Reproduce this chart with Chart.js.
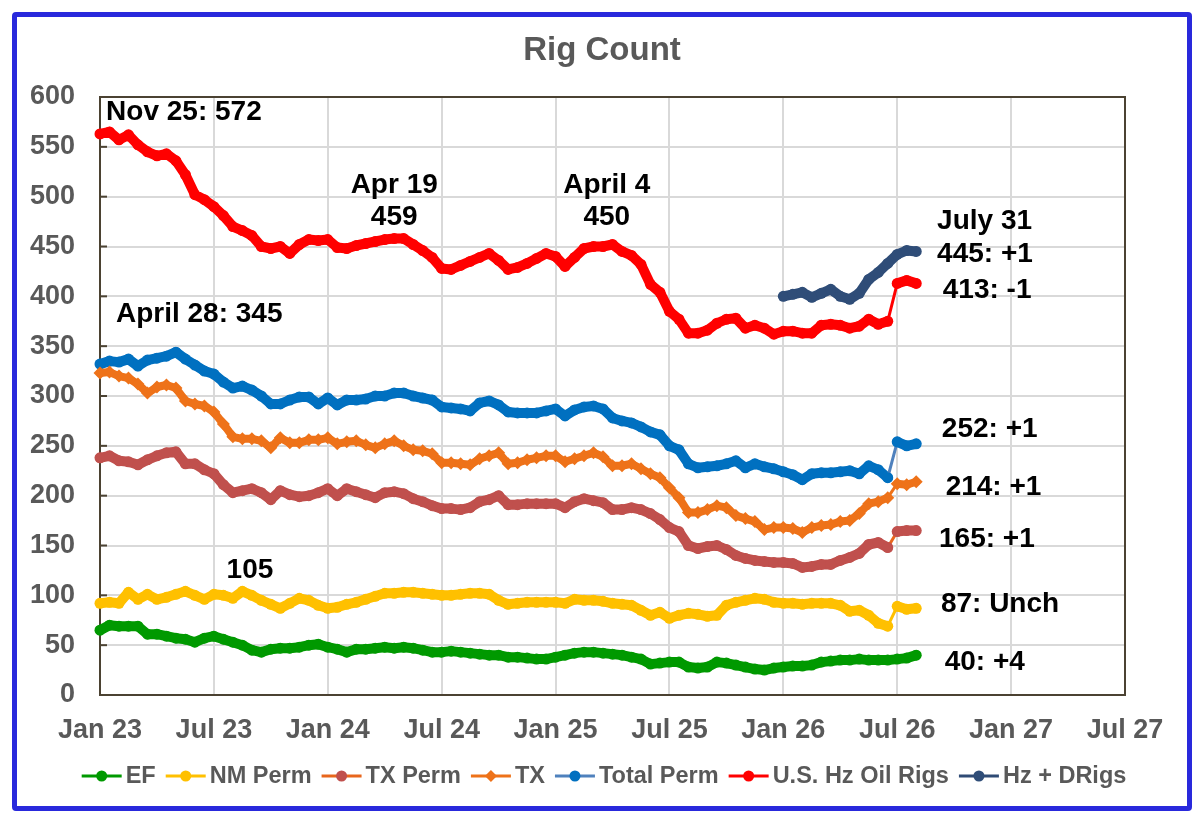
<!DOCTYPE html>
<html>
<head>
<meta charset="utf-8">
<title>Rig Count</title>
<script src="https://cdn.jsdelivr.net/npm/chart.js@4.4.1/dist/chart.umd.min.js"></script>
<style>
  html, body { margin: 0; padding: 0; background: #fff; }
  #wrap { position: relative; width: 1204px; height: 824px; }
  #frame {
    position: absolute; left: 12px; top: 12px;
    width: 1170px; height: 789px;
    border: 5px solid #2929dc; border-radius: 4px;
    pointer-events: none;
  }
  #chart { position: absolute; left: 0; top: 0; }
</style>
</head>
<body>
<div id="wrap">
  <canvas id="chart" width="1204" height="824"></canvas>
  <div id="frame"></div>
</div>
<script>
// Half-month steps, months since Jan 2023
const months = [
  0, 0.5, 1, 1.5, 2, 2.5, 3, 3.5, 4, 4.5,
  5, 5.5, 6, 6.5, 7, 7.5, 8, 8.5, 9, 9.5,
  10, 10.5, 11, 11.5, 12, 12.5, 13, 13.5, 14, 14.5,
  15, 15.5, 16, 16.5, 17, 17.5, 18, 18.5, 19, 19.5,
  20, 20.5, 21, 21.5, 22, 22.5, 23, 23.5, 24, 24.5,
  25, 25.5, 26, 26.5, 27, 27.5, 28, 28.5, 29, 29.5,
  30, 30.5, 31, 31.5, 32, 32.5, 33, 33.5, 34, 34.5,
  35, 35.5, 36, 36.5, 37, 37.5, 38, 38.5, 39, 39.5,
  40, 40.5, 41, 41.5, 42, 42.5, 43
];

const xTickLabels = ['Jan 23', 'Jul 23', 'Jan 24', 'Jul 24', 'Jan 25', 'Jul 25',
  'Jan 26', 'Jul 26', 'Jan 27', 'Jul 27'];

const efRigs = [
  65, 70, 69, 69, 69, 61, 61, 59, 57, 56,
  53, 57, 59, 56, 53, 50, 45, 43, 46, 47,
  47, 48, 50, 51, 48, 46, 43, 46, 46, 47,
  48, 47, 48, 47, 45, 43, 43, 44, 43, 42,
  41, 40, 40, 38, 38, 37, 36, 36, 38, 40,
  42, 43, 43, 42, 41, 40, 38, 36, 31, 32,
  33, 33, 28, 27, 28, 33, 32, 30, 28, 26,
  25, 27, 28, 29, 29, 30, 33, 34, 35, 35,
  36, 35, 35, 35, 36, 37, 40
];

const nmPerm = [
  92, 93, 92, 103, 96, 101, 96, 98, 101, 104,
  100, 96, 101, 100, 97, 104, 100, 95, 91, 87,
  92, 97, 95, 90, 87, 88, 91, 93, 96, 99,
  102, 102, 103, 103, 102, 101, 100, 100, 101, 102,
  102, 101, 95, 91, 92, 93, 93, 93, 93, 92,
  96, 95, 95, 94, 92, 91, 90, 85, 80, 83,
  77, 80, 82, 81, 79, 80, 90, 93, 95, 97,
  96, 93, 92, 92, 91, 92, 92, 92, 90, 84,
  85, 80, 72, 69, 89, 86, 87
];

const txPerm = [
  238, 240, 235, 234, 231, 236, 240, 243, 244, 232,
  232, 226, 222, 211, 203, 205, 207, 203, 196, 205,
  201, 199, 200, 203, 207, 200, 207, 204, 201, 198,
  203, 204, 202, 197, 194, 190, 187, 187, 186, 188,
  194, 196, 200, 191, 191, 192, 192, 192, 192, 188,
  194, 197, 195, 193, 186, 186, 188, 186, 182, 176,
  168, 164, 150, 147, 149, 150, 146, 140, 137, 135,
  134, 133, 133, 132, 128, 129, 131, 131, 135, 138,
  142, 151, 153, 148, 164, 165, 165
];

const txTotal = [
  323, 324, 320, 318, 312, 303, 309, 311, 308, 295,
  292, 290, 284, 272, 259, 257, 257, 255, 248, 258,
  253, 253, 256, 256, 258, 252, 254, 255, 251, 248,
  252, 255, 250, 246, 245, 242, 233, 233, 232, 231,
  237, 240, 243, 232, 233, 236, 238, 240, 240, 234,
  237, 240, 243, 239, 230, 230, 232, 227, 222, 218,
  208, 198, 183, 183, 186, 190, 188, 180, 177, 174,
  166, 168, 168, 167, 163, 168, 170, 171, 174, 175,
  182, 192, 194, 198, 212, 211, 214
];

const totalPerm = [
  332, 335, 334, 337, 330, 336, 338, 340, 344, 337,
  331, 325, 322, 314, 308, 310, 306, 300, 292, 292,
  296, 299, 299, 292, 298, 291, 296, 296, 297, 300,
  300, 303, 303, 300, 298, 296, 289, 288, 287, 285,
  293, 295, 291, 284, 283, 283, 283, 285, 287, 280,
  286, 289, 290, 287, 278, 275, 273, 269, 264, 261,
  250, 246, 232, 228, 229, 230, 232, 235, 228, 232,
  229, 227, 224, 221, 216, 222, 223, 223, 224, 225,
  222, 230, 226, 218, 254, 250, 252
];

const usHzOil = [
  563, 565, 557, 562, 552, 545, 541, 543, 536, 522,
  502, 497, 490, 481, 470, 466, 461, 450, 448, 450,
  443, 452, 457, 456, 457, 449, 448, 451, 453, 455,
  457, 458, 458, 452, 446, 439, 428, 427, 431, 435,
  439, 443, 436, 427, 429, 433, 438, 443, 440, 430,
  439, 448, 450, 450, 452, 445, 441, 432, 412, 404,
  385, 377, 363, 363, 366, 373, 377, 378, 368, 371,
  368, 362, 365, 365, 363, 363, 371, 372, 371, 368,
  370, 377, 372, 375, 413, 416, 413
];

const hzPlusD = [
  null, null, null, null, null, null, null, null, null, null,
  null, null, null, null, null, null, null, null, null, null,
  null, null, null, null, null, null, null, null, null, null,
  null, null, null, null, null, null, null, null, null, null,
  null, null, null, null, null, null, null, null, null, null,
  null, null, null, null, null, null, null, null, null, null,
  null, null, null, null, null, null, null, null, null, null,
  null, null, 400, 402, 404, 399, 403, 407, 400, 397,
  403, 417, 424, 433, 442, 446, 445
];

// the week the series jump (data source change): drawn as a thin link
const jumpFrom = months.indexOf(41.5);

// text notes, anchored in data units (month, rigs)
const notes = [
  { text: 'Nov 25: 572', x: 0.32, y: 577, align: 'left' },
  { text: 'April 28: 345', x: 0.84, y: 374, align: 'left' },
  { text: '105', x: 7.9, y: 117, align: 'center' },
  { text: 'Apr 19', x: 15.5, y: 504, align: 'center' },
  { text: '459', x: 15.5, y: 472, align: 'center' },
  { text: 'April 4', x: 26.7, y: 504, align: 'center' },
  { text: '450', x: 26.7, y: 472, align: 'center' },
  { text: 'July 31', x: 44.1, y: 468, align: 'left' },
  { text: '445: +1', x: 44.1, y: 434, align: 'left' },
  { text: '413: -1', x: 44.4, y: 398, align: 'left' },
  { text: '252: +1', x: 44.35, y: 259, align: 'left' },
  { text: '214: +1', x: 44.55, y: 201, align: 'left' },
  { text: '165: +1', x: 44.2, y: 148, align: 'left' },
  { text: '87: Unch', x: 44.3, y: 83, align: 'left' },
  { text: '40: +4', x: 44.5, y: 25, align: 'left' }
];

const FONT = "'Liberation Sans', Arial, Helvetica, sans-serif";
const GRAY = '#595959';
const FRAME = '#4b4232';

function series(label, values, line, point, style, hasJump) {
  const pts = [];
  values.forEach((v, i) => {
    if (v !== null) pts.push({ x: months[i], y: v });
  });
  const thin = c => hasJump && c.p0DataIndex === jumpFrom;
  return {
    label: label,
    data: pts,
    borderColor: line,
    backgroundColor: point,
    pointBackgroundColor: point,
    pointBorderColor: point,
    pointStyle: style,
    pointRadius: style === 'rectRot' ? 6.5 : 5.5,
    pointBorderWidth: 0,
    pointHoverRadius: 5.5,
    borderWidth: 10,
    borderJoinStyle: 'round',
    borderCapStyle: 'round',
    tension: 0,
    clip: false,
    segment: {
      // dense weekly markers read as a solid band; the jump is a thin link
      borderWidth: c => thin(c) ? 3 : (style === 'rectRot' ? 8 : 10),
      borderColor: c => thin(c) ? line : point
    }
  };
}

const datasets = [
  series('EF', efRigs, '#009900', '#009900', 'circle', false),
  series('NM Perm', nmPerm, '#ffc000', '#ffc000', 'circle', true),
  series('TX Perm', txPerm, '#e8661c', '#c0504d', 'circle', true),
  series('TX', txTotal, '#ee7219', '#ee7219', 'rectRot', true),
  series('Total Perm', totalPerm, '#4f81bd', '#0070c0', 'circle', true),
  series('U.S. Hz Oil Rigs', usHzOil, '#ff0000', '#ff0000', 'circle', true),
  series('Hz + DRigs', hzPlusD, '#2f4b75', '#2f4d78', 'circle', false)
];

function drawMarker(ctx, style, x, y, r, color) {
  ctx.fillStyle = color;
  ctx.beginPath();
  if (style === 'rectRot') {
    ctx.moveTo(x, y - r);
    ctx.lineTo(x + r, y);
    ctx.lineTo(x, y + r);
    ctx.lineTo(x - r, y);
    ctx.closePath();
  } else {
    ctx.arc(x, y, r, 0, Math.PI * 2);
  }
  ctx.fill();
}

const overlay = {
  id: 'overlay',
  beforeDatasetsDraw(chart) {
    const { ctx, chartArea: a, scales } = chart;
    ctx.save();
    ctx.strokeStyle = FRAME;
    ctx.lineWidth = 2;
    // short tick marks inside the left axis
    scales.y.ticks.forEach(t => {
      const py = scales.y.getPixelForValue(t.value);
      ctx.beginPath();
      ctx.moveTo(a.left, py);
      ctx.lineTo(a.left + 7, py);
      ctx.stroke();
    });
    ctx.strokeRect(a.left, a.top, a.right - a.left, a.bottom - a.top);
    ctx.restore();
  },
  afterDraw(chart) {
    const { ctx, scales } = chart;
    ctx.save();

    // title
    ctx.fillStyle = GRAY;
    ctx.font = 'bold 33px ' + FONT;
    ctx.textAlign = 'center';
    ctx.textBaseline = 'alphabetic';
    ctx.fillText('Rig Count', 602, 60);

    // notes
    ctx.fillStyle = '#000';
    ctx.font = 'bold 28px ' + FONT;
    notes.forEach(n => {
      ctx.textAlign = n.align;
      ctx.fillText(n.text, scales.x.getPixelForValue(n.x), scales.y.getPixelForValue(n.y));
    });

    // legend: line + marker, then label
    ctx.font = 'bold 23.5px ' + FONT;
    ctx.textBaseline = 'middle';
    ctx.textAlign = 'left';
    const lineLen = 40, textGap = 4, itemGap = 10, ly = 776;
    const widths = datasets.map(d => lineLen + textGap + ctx.measureText(d.label).width);
    const total = widths.reduce((s, w) => s + w, 0) + itemGap * (datasets.length - 1);
    let lx = 604 - total / 2;
    datasets.forEach((d, i) => {
      ctx.strokeStyle = d.borderColor;
      ctx.lineWidth = 3;
      ctx.beginPath();
      ctx.moveTo(lx, ly);
      ctx.lineTo(lx + lineLen, ly);
      ctx.stroke();
      drawMarker(ctx, d.pointStyle, lx + lineLen / 2, ly, d.pointStyle === 'rectRot' ? 6 : 5.5, d.pointBackgroundColor);
      ctx.fillStyle = GRAY;
      ctx.fillText(d.label, lx + lineLen + textGap, ly + 1);
      lx += widths[i] + itemGap;
    });

    ctx.restore();
  }
};

new Chart(document.getElementById('chart'), {
  type: 'line',
  data: { datasets: datasets },
  options: {
    responsive: false,
    animation: false,
    devicePixelRatio: 1,
    layout: { padding: { left: 0, top: 97, right: 79, bottom: 69 } },
    plugins: {
      legend: { display: false },
      title: { display: false },
      tooltip: { enabled: false }
    },
    scales: {
      x: {
        type: 'linear',
        min: 0,
        max: 54,
        afterFit(scale) { scale.height = 60; },
        grid: { color: '#d9d9d9', lineWidth: 2, drawTicks: false },
        border: { display: false },
        ticks: {
          stepSize: 6,
          padding: 19,
          color: GRAY,
          font: { family: FONT, size: 27, weight: 'bold' },
          maxRotation: 0,
          callback: v => xTickLabels[Math.round(v / 6)]
        }
      },
      y: {
        min: 0,
        max: 600,
        afterFit(scale) { scale.width = 100; },
        grid: { color: '#d9d9d9', lineWidth: 2, drawTicks: false },
        border: { display: false },
        ticks: {
          stepSize: 50,
          padding: 25,
          color: GRAY,
          font: { family: FONT, size: 27, weight: 'bold' }
        }
      }
    }
  },
  plugins: [overlay]
});
</script>
</body>
</html>
